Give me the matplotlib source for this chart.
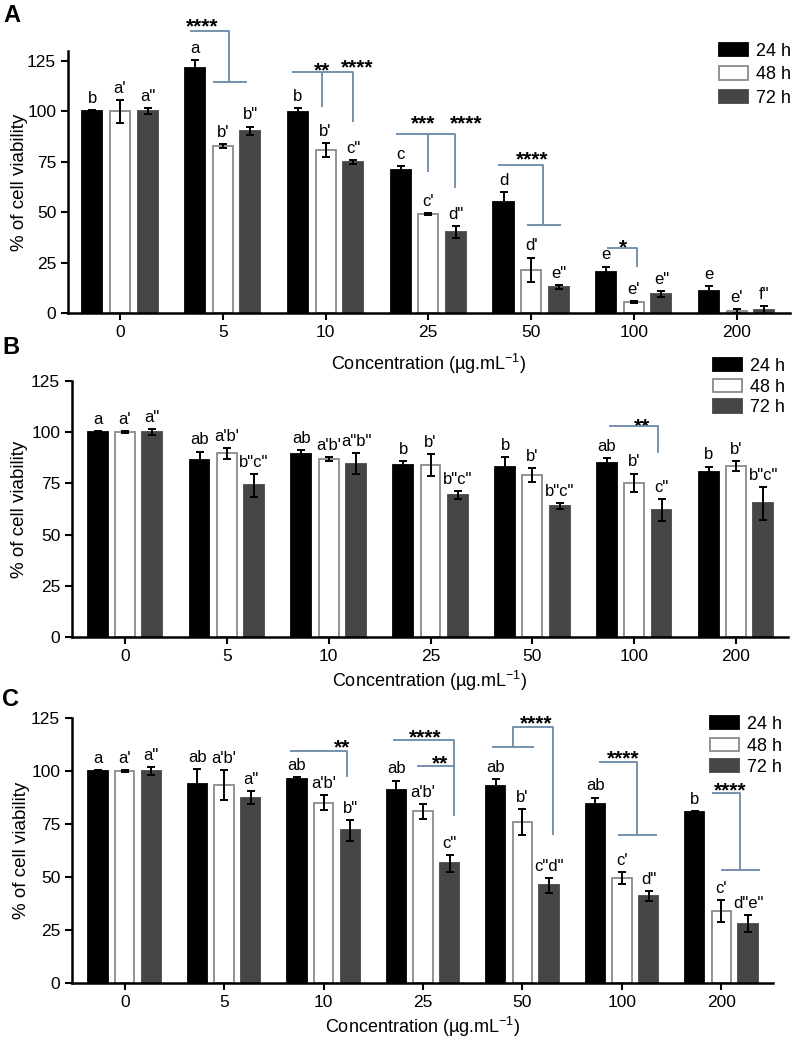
import matplotlib
matplotlib.use("Agg")
import matplotlib.pyplot as plt
from matplotlib.patches import Patch
import numpy as np

plt.rcParams['font.family'] = ['Liberation Sans', 'DejaVu Sans']
plt.rcParams['mathtext.fontset'] = 'custom'
plt.rcParams['mathtext.rm'] = 'Liberation Sans'
plt.rcParams['mathtext.it'] = 'Liberation Sans'

conc = ['0', '5', '10', '25', '50', '100', '200']
times = ['24 h', '48 h', '72 h']

# panel A
a_24 = [100, 121.5, 99.5, 71, 55, 20.5, 11]
a_24_err = [0.5, 4, 2, 2, 5, 2.5, 2.5]
a_48 = [100, 83, 81, 49, 21.5, 5.6, 0.8]
a_48_err = [5.5, 1, 3.5, 0.5, 6, 0.5, 1]
a_72 = [100, 90.5, 75, 40, 13, 9.5, 1.5]
a_72_err = [1.5, 2, 1, 3, 1, 1.5, 2]
a_letters = [["b", "a'", 'a"'], ["a", "b'", 'b"'], ["b", "b'", 'c"'], ["c", "c'", 'd"'],
             ["d", "d'", 'e"'], ["e", "e'", 'e"'], ["e", "e'", 'f"']]

# panel B
b_24 = [100, 86.5, 89.3, 84, 83, 85.2, 80.7]
b_24_err = [0.5, 4, 2, 2, 5, 2, 2.5]
b_48 = [100, 89.6, 86.8, 84, 79, 75.3, 83.4]
b_48_err = [0.5, 2.5, 1, 5.5, 3.5, 4.5, 2.5]
b_72 = [100, 74, 84.7, 69.3, 64, 62, 65.2]
b_72_err = [1.5, 5.5, 5, 2, 1.5, 5.5, 8]
b_letters = [["a", "a'", 'a"'], ["ab", "a'b'", 'b"c"'], ["ab", "a'b'", 'a"b"'], ["b", "b'", 'b"c"'],
             ["b", "b'", 'b"c"'], ["ab", "b'", 'c"'], ["b", "b'", 'b"c"']]

# panel C
c_24 = [100, 94, 96, 91, 93, 84.5, 80.5]
c_24_err = [0.5, 7, 1, 4.5, 3, 3, 0.5]
c_48 = [100, 93.5, 85, 81, 76, 49.5, 34]
c_48_err = [0.5, 7, 3.5, 3.5, 6, 3, 5]
c_72 = [100, 87.5, 72, 56.5, 46, 41, 28]
c_72_err = [2, 3, 5, 4, 3.5, 2.5, 4]
c_letters = [["a", "a'", 'a"'], ["ab", "a'b'", 'a"'], ["ab", "a'b'", 'b"'], ["ab", "a'b'", 'c"'],
             ["ab", "b'", 'c"d"'], ["ab", "c'", 'd"'], ["b", "c'", 'd"e"']]

# significance brackets: polylines (x in group units, y in %) and star labels
a_lines = [[(0.68, 140), (1.06, 140), (1.06, 114.6)], [(0.905, 114.6), (1.235, 114.6)],
           [(1.673, 119.5), (2.267, 119.5), (2.267, 94.7)], [(1.965, 119.5), (1.965, 102)],
           [(2.685, 88.8), (3.259, 88.8), (3.259, 62)], [(2.996, 88.8), (2.996, 70)],
           [(3.677, 73.4), (4.115, 73.4), (4.115, 43.7)], [(3.959, 43.7), (4.29, 43.7)],
           [(4.737, 32.2), (5.029, 32.2), (5.029, 22.8)]]
a_stars = [(0.80, 145.3, '****'), (1.965, 123.5, '**'), (2.305, 124.5, '****'),
           (2.947, 97.2, '***'), (3.366, 97.2, '****'), (4.008, 78.9, '****'), (4.893, 35.2, '*')]

b_lines = [[(4.754, 103), (5.236, 103), (5.236, 89.8)]]
b_stars = [(5.079, 105.9, '**')]

c_lines = [[(1.662, 109.6), (2.236, 109.6), (2.236, 97)],
           [(2.699, 114.6), (3.313, 114.6), (3.313, 78.8)], [(2.941, 102.4), (3.313, 102.4)],
           [(3.696, 111.5), (4.119, 111.5)], [(3.907, 111.5), (3.907, 120.6), (4.31, 120.6), (4.31, 69.8)],
           [(4.773, 104.4), (5.156, 104.4), (5.156, 69.8)], [(4.965, 69.8), (5.358, 69.8)],
           [(5.911, 89.5), (6.193, 89.5), (6.193, 53.3)], [(6.0, 53.3), (6.385, 53.3)]]
c_stars = [(2.185, 113.7, '**'), (3.021, 118.4, '****'), (3.172, 106.1, '**'),
           (4.139, 125, '****'), (5.015, 108.5, '****'), (6.093, 93.4, '****')]

colors = ['#000000', '#ffffff', '#464646']
edges = ['#000000', '#8a8a8a', '#464646']
br_color = '#6a89a8'
W, H = 797, 1043


def draw_panel(rect, ylim, xlim, series, errs, letters, lines, stars, label, label_xy, leg_xy, leg_space,
               ylab_x, xpad):
    ax = fig.add_axes(rect)
    x = np.arange(len(conc))
    offs = [-0.268, 0, 0.268]
    for k in range(3):
        ax.bar(x + offs[k], series[k], width=0.195, color=colors[k], edgecolor=edges[k],
               linewidth=1.3, zorder=2)
        ax.errorbar(x + offs[k], series[k], yerr=errs[k], fmt='none', ecolor='black',
                    elinewidth=1.4, capsize=3.2, capthick=1.4, zorder=3)
        for i in range(len(conc)):
            ax.annotate(letters[i][k], (x[i] + offs[k], series[k][i] + errs[k][i]),
                        xytext=(0, 3), textcoords='offset points', ha='center', va='bottom',
                        fontsize=12, annotation_clip=False)
    for ln in lines:
        xs, ys = zip(*ln)
        ax.plot(xs, ys, color=br_color, lw=1.3, clip_on=False, zorder=4, solid_capstyle='butt')
    for sx, sy, s in stars:
        ax.annotate(s, (sx, sy), xytext=(0, -8.5), textcoords='offset points', ha='center',
                    va='baseline', fontsize=15, fontweight='bold', annotation_clip=False)
    ax.set_xlim(*xlim)
    ax.set_ylim(*ylim)
    ax.set_yticks([0, 25, 50, 75, 100, 125])
    ax.set_xticks(x)
    ax.set_xticklabels(conc)
    ax.tick_params(axis='both', labelsize=12.5, width=1.5, length=5, direction='out')
    for sp in ['top', 'right']:
        ax.spines[sp].set_visible(False)
    for sp in ['left', 'bottom']:
        ax.spines[sp].set_linewidth(1.8)
    ax.set_ylabel('% of cell viability', fontsize=13.5)
    ax.yaxis.set_label_coords(ylab_x, 0.5)
    ax.set_xlabel(r'Concentration (µg.mL$^{-1}$)', fontsize=13, labelpad=xpad)
    fig.text(label_xy[0] / W, 1 - label_xy[1] / H, label, fontsize=17, fontweight='bold',
             ha='left', va='center')
    handles = [Patch(facecolor=colors[k], edgecolor=edges[k], linewidth=1.3) for k in range(3)]
    fig.legend(handles, times, loc='upper left', bbox_to_anchor=(leg_xy[0] / W, 1 - leg_xy[1] / H),
               frameon=False, fontsize=13, borderpad=0, borderaxespad=0, handlelength=1.6,
               handleheight=0.75, handletextpad=0.45, labelspacing=leg_space)
    return ax


fig = plt.figure(figsize=(W / 100, H / 100), dpi=100)

draw_panel([68 / W, 1 - 313 / H, 722 / W, 262 / H], (0, 130), (-0.506, 6.52),
           [a_24, a_48, a_72], [a_24_err, a_48_err, a_72_err], a_letters, a_lines, a_stars,
           'A', (3, 15), (719, 43), 0.35, -0.055, 9)
draw_panel([72 / W, 1 - 637 / H, 716 / W, 256 / H], (0, 125), (-0.52, 6.51),
           [b_24, b_48, b_72], [b_24_err, b_48_err, b_72_err], b_letters, b_lines, b_stars,
           'B', (2, 347), (713, 358), 0.2, -0.061, 4)
draw_panel([72 / W, 1 - 983 / H, 701 / W, 265 / H], (0, 125), (-0.53, 6.52),
           [c_24, c_48, c_72], [c_24_err, c_48_err, c_72_err], c_letters, c_lines, c_stars,
           'C', (2, 700), (710, 716), 0.25, -0.06, 4)

fig.savefig('out.png', dpi=100)
